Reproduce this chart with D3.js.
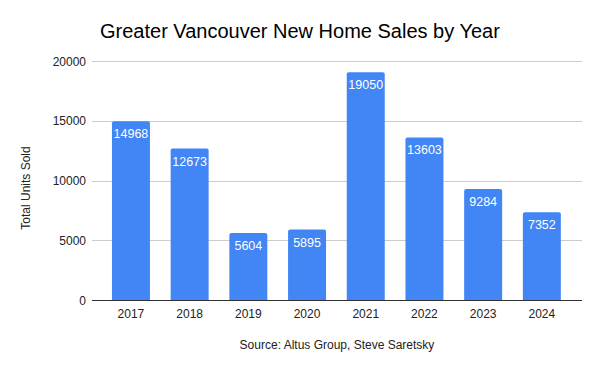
<!DOCTYPE html>
<html><head><meta charset="utf-8">
<script src="https://cdn.jsdelivr.net/npm/d3@7"></script>
<style>body{margin:0;background:#fff}svg{display:block}text{font-family:"Liberation Sans",Arial,sans-serif}</style>
</head><body>
<svg id="c" width="600" height="371"></svg>
<script>
const years = ["2017","2018","2019","2020","2021","2022","2023","2024"];
const sales = [14968,12673,5604,5895,19050,13603,9284,7352];
const yTicks = [0,5000,10000,15000,20000];
const title = "Greater Vancouver New Home Sales by Year";
const yTitle = "Total Units Sold";
const source = "Source: Altus Group, Steve Saretsky";

const svg = d3.select("#c");
svg.append("rect").attr("width",600).attr("height",371).attr("fill","#fff");
const y = d3.scaleLinear().domain([0,20000]).range([300,61]);
const x = d3.scaleBand().domain(years).range([101.6,571.2]).paddingInner(0.353).paddingOuter(0.1765);

svg.append("g").selectAll("line").data(yTicks.filter(d=>d>0)).join("line")
  .attr("x1",92).attr("x2",582).attr("y1",d=>Math.round(y(d))+0.5).attr("y2",d=>Math.round(y(d))+0.5)
  .attr("stroke","#cccccc").attr("stroke-width",1);

svg.append("g").selectAll("text").data(yTicks).join("text")
  .attr("x",86).attr("y",d=>y(d)+4.5).attr("text-anchor","end")
  .attr("font-size",12).attr("fill","#222").text(d=>d);

const bars = svg.append("g");
bars.selectAll("path").data(sales).join("path")
  .attr("fill","#4285f4")
  .attr("d",(d,i)=>{
    const x0=x(years[i]), w=x.bandwidth(), t=y(d), b=y(0), r=2;
    return `M${x0},${b}V${t+r}Q${x0},${t} ${x0+r},${t}H${x0+w-r}Q${x0+w},${t} ${x0+w},${t+r}V${b}Z`;
  });
bars.selectAll("text").data(sales).join("text")
  .attr("x",(d,i)=>x(years[i])+x.bandwidth()/2).attr("y",d=>y(d)+17)
  .attr("text-anchor","middle").attr("font-size",12.5).attr("fill","#fff").text(d=>d);

svg.append("line").attr("x1",92).attr("x2",582).attr("y1",300.5).attr("y2",300.5)
  .attr("stroke","#333").attr("stroke-width",1);

svg.append("g").selectAll("text").data(years).join("text")
  .attr("x",d=>x(d)+x.bandwidth()/2).attr("y",318).attr("text-anchor","middle")
  .attr("font-size",12).attr("fill","#222").text(d=>d);

svg.append("text").attr("x",100).attr("y",38).attr("font-size",20).attr("fill","#000").text(title);
svg.append("text").attr("transform","translate(30,188) rotate(-90)").attr("text-anchor","middle")
  .attr("font-size",12).attr("fill","#222").text(yTitle);
svg.append("text").attr("x",337).attr("y",349).attr("text-anchor","middle")
  .attr("font-size",12).attr("fill","#222").text(source);
</script>
</body></html>
